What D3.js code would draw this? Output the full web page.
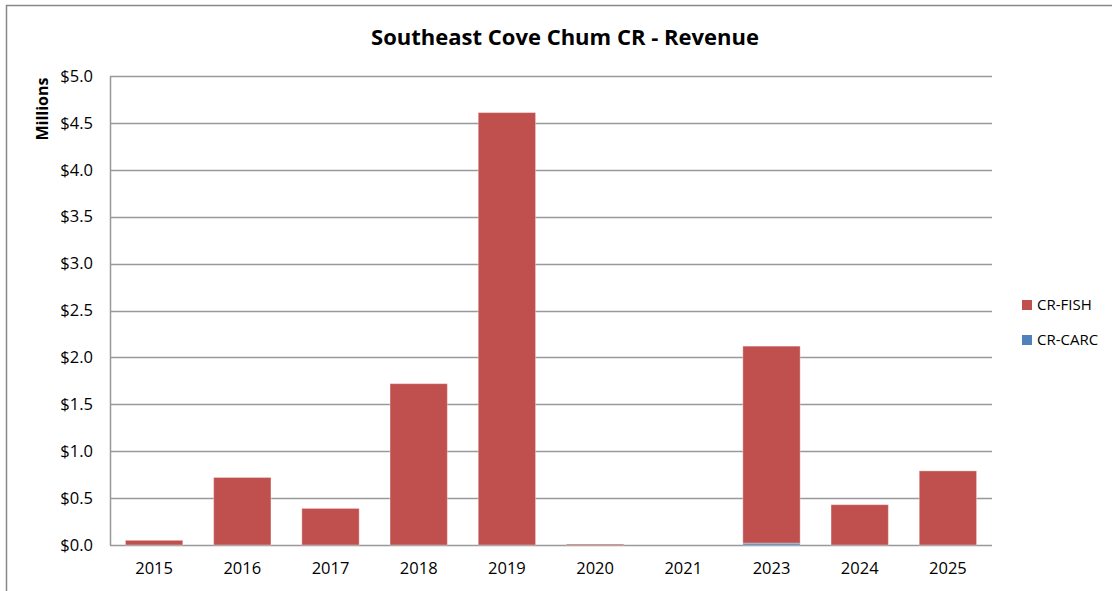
<!DOCTYPE html>
<html>
<head>
<meta charset="UTF-8">
<title>Southeast Cove Chum CR - Revenue</title>
<script src="https://d3js.org/d3.v7.min.js"></script>
<style>
    body { margin: 0; background: #fff; }
    text { font-family: "Open Sans", "DejaVu Sans", sans-serif; fill: #000; }
</style>
</head>
<body>
<svg width="1112" height="591"></svg>
<script>
    // values in millions of dollars
    var years = ['2015', '2016', '2017', '2018', '2019', '2020', '2021', '2023', '2024', '2025'];
    var fish = [0.05, 0.72, 0.39, 1.72, 4.61, 0.01, 0, 2.10, 0.43, 0.79];
    var carc = [0, 0, 0, 0, 0, 0, 0, 0.02, 0, 0];
    var yTicks = [0, 0.5, 1, 1.5, 2, 2.5, 3, 3.5, 4, 4.5, 5];
    var seriesNames = ['CR-CARC', 'CR-FISH'];
    var colors = { 'CR-FISH': '#C0504D', 'CR-CARC': '#4F81BD' };

    var svg = d3.select('svg');
    var margin = { top: 76, left: 110, right: 120, bottom: 46 };
    var width = 992 - margin.left,
        height = 545 - margin.top;

    // outer frame
    svg.append('rect')
        .attr('x', 6.5).attr('y', 5.5)
        .attr('width', 1120).attr('height', 600)
        .attr('fill', 'none').attr('stroke', '#888').attr('stroke-width', 1.5);

    svg.append('text')
        .attr('x', 565).attr('y', 45)
        .attr('text-anchor', 'middle')
        .style('font-size', '22px').style('font-weight', 'bold')
        .text('Southeast Cove Chum CR - Revenue');

    var g = svg.append('g').attr('transform', 'translate(' + margin.left + ',' + margin.top + ')');

    var x = d3.scaleBand().domain(years).range([0, width]).paddingInner(0.35).paddingOuter(0.175);
    var y = d3.scaleLinear().domain([0, 5]).range([height, 0]);

    // gridlines
    g.append('g').selectAll('line')
        .data(yTicks)
        .enter().append('line')
        .attr('x1', 0).attr('x2', width)
        .attr('y1', d => Math.round(y(d)) + 0.5).attr('y2', d => Math.round(y(d)) + 0.5)
        .attr('stroke', '#999').attr('stroke-width', 1.5);

    var yAxis = g.append('g')
        .call(d3.axisLeft(y).tickValues(yTicks).tickSize(0).tickPadding(17).tickFormat(d => '$' + d3.format('.1f')(d)));
    yAxis.select('.domain').attr('stroke', '#999').attr('stroke-width', 1.5);
    yAxis.selectAll('text').style('font-size', '16.5px').style('font-family', '"Open Sans", sans-serif');

    var xAxis = g.append('g')
        .attr('transform', 'translate(0,' + height + ')')
        .call(d3.axisBottom(x).tickSize(0).tickPadding(17));
    xAxis.select('.domain').remove();
    xAxis.selectAll('text').style('font-size', '16.5px').style('font-family', '"Open Sans", sans-serif');

    var rows = years.map((yr, i) => ({ year: yr, 'CR-CARC': carc[i], 'CR-FISH': fish[i] }));
    var stack = d3.stack().keys(seriesNames)(rows);

    g.selectAll('.series')
        .data(stack)
        .enter().append('g')
        .attr('class', 'series')
        .attr('fill', d => colors[d.key])
        .selectAll('rect')
        .data(d => d.filter(p => p[1] - p[0] > 0))
        .enter().append('rect')
        .attr('x', d => x(d.data.year))
        .attr('width', x.bandwidth())
        .attr('y', d => y(d[1]))
        .attr('height', d => y(d[0]) - y(d[1]))
        .attr('stroke', 'rgba(255,255,255,0.35)')
        .attr('stroke-width', 1);

    svg.append('text')
        .attr('transform', 'translate(48,109) rotate(-90)')
        .attr('text-anchor', 'middle')
        .style('font-size', '16px').style('font-weight', 'bold')
        .text('Millions');

    var legend = svg.append('g').attr('transform', 'translate(1022,300)');
    var legendItems = ['CR-FISH', 'CR-CARC'];
    var item = legend.selectAll('g')
        .data(legendItems)
        .enter().append('g')
        .attr('transform', (d, i) => 'translate(0,' + i * 35 + ')');
    item.append('rect')
        .attr('width', 10).attr('height', 10)
        .attr('fill', d => colors[d]);
    item.append('text')
        .attr('x', 15).attr('y', 5).attr('dy', '0.35em')
        .style('font-size', '15px')
        .text(d => d);
</script>
</body>
</html>
